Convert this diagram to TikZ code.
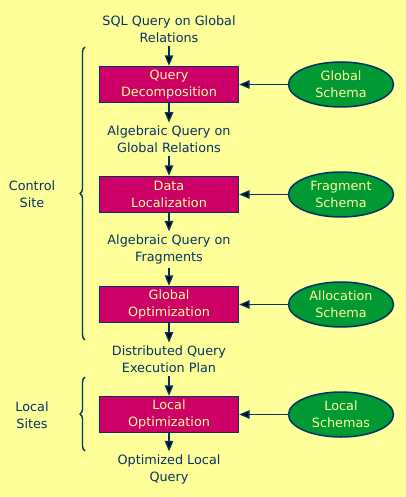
\documentclass[tikz,border=0pt]{standalone}
\usepackage{fontspec}
\setmainfont{DejaVu Sans}
\usetikzlibrary{positioning}
\usetikzlibrary{arrows}
\usetikzlibrary{shapes.geometric}
\usetikzlibrary{decorations.pathreplacing}
\definecolor{navy}{HTML}{003366}
\definecolor{paleyellow}{HTML}{FFFF99}
\definecolor{stepred}{HTML}{CC0066}
\definecolor{schemagreen}{HTML}{009933}

\begin{document}
\begin{tikzpicture}[x=1pt,y=-1pt,>=triangle 45,node distance=55pt,
	font=\fontsize{12.8}{17}\selectfont,
	step node/.style={rectangle,draw=navy,fill=stepred,text=paleyellow,line width=1.5pt,minimum width=139pt,minimum height=36pt,align=center,inner sep=1pt},
	schema node/.style={ellipse,draw=navy,fill=schemagreen,text=paleyellow,line width=1.5pt,minimum width=105pt,minimum height=45pt,align=center,inner sep=1pt},
	label node/.style={text=navy,align=center}]

	%background of the slide
	\fill[paleyellow] (0,0) rectangle (406,497);
	\useasboundingbox (0,0) rectangle (406,497);

	%the chain of query forms and the steps between them
	\begin{scope}
		\node[label node] (q0) at (169,29.5) {SQL Query on Global\\Relations};
		\node[step node] (1) [below of = q0] {Query\\Decomposition};
		\node[label node] (q1) [below of = 1] {Algebraic Query on\\Global Relations};
		\node[step node] (2) [below of = q1] {Data\\Localization};
		\node[label node] (q2) [below of = 2] {Algebraic Query on\\Fragments};
		\node[step node] (3) [below of = q2] {Global\\Optimization};
		\node[label node] (q3) [below of = 3] {Distributed Query\\Execution Plan};
		\node[step node] (4) [below of = q3] {Local\\Optimization};
		\node[label node] (q4) [below of = 4] {Optimized Local\\Query};
	\end{scope}

	%the schemas each step reads
	\begin{scope}[node distance=172pt]
		\node[schema node] (s1) [right of = 1] {Global\\Schema};
		\node[schema node] (s2) [right of = 2] {Fragment\\Schema};
		\node[schema node] (s3) [right of = 3] {Allocation\\Schema};
		\node[schema node] (s4) [right of = 4] {Local\\Schemas};
	\end{scope}

	\path[->,draw=navy,line width=1.4pt]
		(q0) edge (1)
		(1) edge (q1)
		(q1) edge (2)
		(2) edge (q2)
		(q2) edge (3)
		(3) edge (q3)
		(q3) edge (4)
		(4) edge (q4)
		(s1) edge (1)
		(s2) edge (2)
		(s3) edge (3)
		(s4) edge (4);

	%finally, the braces for the sites
	\begin{scope}[navy,line width=1.4pt,decoration={brace,amplitude=5pt}]
		\coordinate (c1) at (85,47);
		\coordinate (c2) at (85,340);
		\coordinate (l1) at (85,377);
		\coordinate (l2) at (85,451);
		\draw[decorate] (c2) -- (c1);
		\draw[decorate] (l2) -- (l1);
		\node[label node] (cs) at (32,194.5) {Control\\Site};
		\node[label node] (ls) at (32,415.5) {Local\\Sites};
	\end{scope}
\end{tikzpicture}
\end{document}
